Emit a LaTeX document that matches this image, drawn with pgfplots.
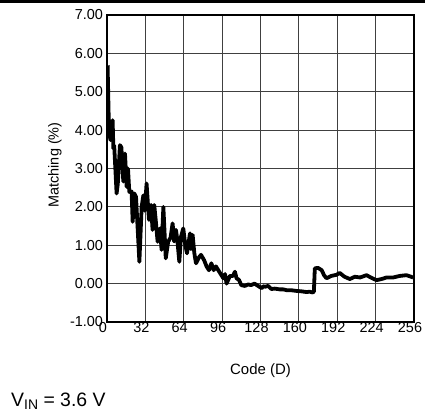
\documentclass[border=0pt]{standalone}
\usepackage{pgfplots}
\pgfplotsset{compat=1.18}
\usepackage{fontspec}
\setmainfont{Liberation Sans}

\begin{document}
\begin{tikzpicture}
\useasboundingbox (0bp,0bp) rectangle (425bp,-416bp);
\draw[line width=2bp] (0bp,-1.5bp) -- (425bp,-1.5bp);
\begin{axis}[
    at={(107bp,-322bp)}, anchor=south west,
    width=307bp, height=307bp,
    scale only axis,
    xmin=0, xmax=256,
    ymin=-1, ymax=7,
    xtick={0,32,...,256},
    ytick={-1,0,...,7},
    yticklabels={-1.00,0.00,1.00,2.00,3.00,4.00,5.00,6.00,7.00},
    /pgf/number format/assume math mode=true,
    tick label style={font=\fontsize{14.5}{16}\selectfont},
    yticklabel style={xshift=-0.5bp},
    xticklabel style={xshift=-4bp, yshift=3bp},
    grid=major,
    major grid style={black!75, line width=1bp},
    axis line style={line width=1.8bp},
    major tick length=0pt,
]
\addplot[black, line width=3.8bp, line join=round] coordinates {
(0.5,5.69) (1.7,3.91) (3,3.74) (4.7,4.26) (5.3,3.52) (6,3.6) (8,2.35) (9,2.6)
(10.8,3.61) (12,3.55) (13.6,2.66) (15,3.39) (16.4,2.52) (17.5,3.0) (18.6,2.39)
(20.5,2.4) (21.4,1.61) (22.8,2.35) (24.2,2.26) (27,0.57) (28.9,2.0) (30.3,2.3)
(31.5,1.9) (33,2.61) (35,1.66) (36.7,2.05) (38,1.4) (39.4,2.05) (40.8,1.6)
(42.2,1.09) (44.2,1.44) (45.5,0.88) (47,2.0) (49,0.66) (51,1.09) (53,1.2)
(54.7,1.57) (56,1.1) (57.5,1.4) (58.6,1.15) (60.3,0.57) (61.7,1.22) (63.6,1.44)
(65.3,1.0) (66.7,0.79) (69.2,1.31) (70,0.9) (71.4,1.27) (72.8,0.8) (74.2,0.53)
(77,0.70) (78.4,0.75) (81,0.61) (83,0.45) (85,0.35) (87,0.53) (89,0.35)
(90.8,0.45) (93.6,0.31) (97,0.14) (98.4,0.25) (99.7,0.0) (102.5,0.2) (105,0.2)
(106.7,0.31) (108,0.14) (110,0.1) (112,-0.04) (115,-0.06) (117.8,-0.02) (120,-0.04)
(123,0.0) (126,-0.06) (129,-0.12) (130.3,-0.07) (132,-0.08) (134.4,-0.06)
(137,-0.14) (140,-0.13) (144,-0.15) (147,-0.15) (149.7,-0.17) (153,-0.17)
(158,-0.19) (162,-0.2) (166.4,-0.22) (169,-0.21) (171.4,-0.23) (172.5,-0.21)
(173.3,0.40) (176,0.41) (179,0.35) (181,0.22) (183,0.14) (187,0.20) (191.4,0.23)
(194,0.28) (198,0.18) (202.5,0.12) (206.7,0.18) (211,0.16) (216.4,0.22)
(220.6,0.15) (224.7,0.09) (229,0.12) (233,0.16) (238.6,0.16) (244,0.2)
(249.7,0.22) (255.3,0.16)
};
\end{axis}
\node[rotate=90, font=\fontsize{14.5}{16}\selectfont] at (55bp,-165bp) {Matching (\%)};
\node[font=\fontsize{15}{17}\selectfont] at (260.5bp,-371bp) {Code (D)};
\node[anchor=base west, inner sep=0pt, font=\fontsize{19.5}{22}\selectfont] at (11bp,-406bp)
  {V\raisebox{-0.3ex}{\fontsize{14}{16}\selectfont IN} = 3.6 V};
\end{tikzpicture}
\end{document}
